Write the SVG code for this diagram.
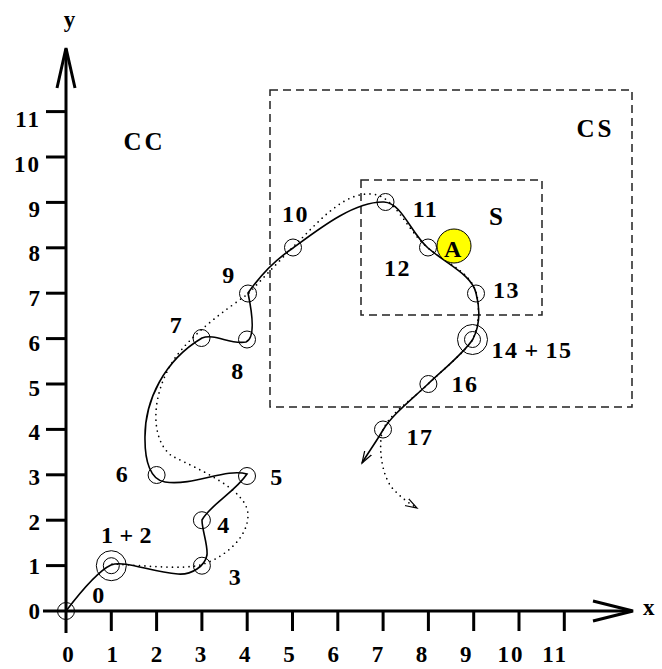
<svg xmlns="http://www.w3.org/2000/svg" width="662" height="669" viewBox="0 0 662 669">
<style>
.ax{stroke:#000;stroke-width:3;fill:none}
.tk{stroke:#000;stroke-width:3}
.al{font-family:"Liberation Serif","Times New Roman",serif;font-weight:bold;font-size:23px;fill:#000}
.lb{font-family:"Liberation Serif","Times New Roman",serif;font-weight:bold;font-size:24px;fill:#000;text-anchor:middle;letter-spacing:1.5px}
.big{font-family:"Liberation Serif","Times New Roman",serif;font-weight:bold;font-size:25px;fill:#000;text-anchor:middle;letter-spacing:3px}
.pt{fill:none;stroke:#000;stroke-width:1}
.box{fill:none;stroke:#222;stroke-width:1.5;stroke-dasharray:8 5}
.solid{fill:none;stroke:#000;stroke-width:1.6;marker-end:url(#arr)}
.dot{fill:none;stroke:#000;stroke-width:1.7;stroke-linecap:round;stroke-dasharray:0 5.5;marker-end:url(#arr)}
</style>
<defs>
<marker id="arr" markerUnits="userSpaceOnUse" markerWidth="14" markerHeight="12" refX="12" refY="6" orient="auto">
<path d="M0,2 L12,6 L0,10" fill="none" stroke="#000" stroke-width="1.2"/>
</marker>
</defs>
<rect width="662" height="669" fill="#fff"/>
<g id="axes">
<line class="ax" x1="43" y1="611" x2="632" y2="611"/>
<polyline class="ax" points="593,601 633,611 593,621"/>
<line class="ax" x1="66" y1="633" x2="66" y2="49"/>
<polyline class="ax" points="57,88 66,48 75,88"/>
<g class="tk">
<line x1="111.3" y1="611" x2="111.3" y2="631"/><line x1="156.6" y1="611" x2="156.6" y2="631"/>
<line x1="201.9" y1="611" x2="201.9" y2="631"/><line x1="247.2" y1="611" x2="247.2" y2="631"/>
<line x1="292.5" y1="611" x2="292.5" y2="631"/><line x1="337.8" y1="611" x2="337.8" y2="631"/>
<line x1="383.1" y1="611" x2="383.1" y2="631"/><line x1="428.4" y1="611" x2="428.4" y2="631"/>
<line x1="473.7" y1="611" x2="473.7" y2="631"/><line x1="519" y1="611" x2="519" y2="631"/>
<line x1="564.3" y1="611" x2="564.3" y2="631"/>
<line x1="46" y1="565.6" x2="66" y2="565.6"/><line x1="46" y1="520.2" x2="66" y2="520.2"/>
<line x1="46" y1="474.8" x2="66" y2="474.8"/><line x1="46" y1="429.4" x2="66" y2="429.4"/>
<line x1="46" y1="384" x2="66" y2="384"/><line x1="46" y1="338.6" x2="66" y2="338.6"/>
<line x1="46" y1="293.2" x2="66" y2="293.2"/><line x1="46" y1="247.8" x2="66" y2="247.8"/>
<line x1="46" y1="202.4" x2="66" y2="202.4"/><line x1="46" y1="157" x2="66" y2="157"/>
<line x1="46" y1="111.6" x2="66" y2="111.6"/>
</g>
<g class="al" text-anchor="middle">
<text x="68" y="662">0</text><text x="112.2" y="662">1</text><text x="156.4" y="662">2</text>
<text x="200.6" y="662">3</text><text x="244.8" y="662">4</text><text x="289" y="662">5</text>
<text x="333.2" y="662">6</text><text x="377.4" y="662">7</text><text x="421.6" y="662">8</text>
<text x="465.8" y="662">9</text><text x="511" y="662" letter-spacing="2">10</text><text x="555.2" y="662" letter-spacing="2">11</text>
</g>
<g class="al" text-anchor="end">
<text x="40" y="619">0</text><text x="40" y="574.3">1</text><text x="40" y="529.6">2</text>
<text x="40" y="484.9">3</text><text x="40" y="440.2">4</text><text x="40" y="395.5">5</text>
<text x="40" y="350.8">6</text><text x="40" y="306.1">7</text><text x="40" y="261.4">8</text>
<text x="40" y="216.7">9</text><text x="41" y="172" letter-spacing="2">10</text><text x="41" y="127.3" letter-spacing="2">11</text>
</g>
<text class="al" x="69.5" y="27" text-anchor="middle" font-size="25">y</text>
<text class="al" x="643" y="615" font-size="25">x</text>
</g>
<g id="regions">
<rect id="region-CS" class="box" x="270" y="90" width="362" height="317"/>
<rect id="region-S" class="box" x="361" y="180" width="181" height="135"/>
<text class="big" x="144.5" y="150">CC</text>
<text class="big" x="595.5" y="137">CS</text>
<text class="big" x="497.5" y="225" letter-spacing="0">S</text>
</g>
<g id="connectors">
<path id="trajectory" class="solid" d="M66,611 C82,590 98,571 111,565 C125,560 150,572 178,574 C192,575 205,566 207,555 C208,545 202,530 202,520 C210,505 235,492 247,474 C225,468 195,486 165,482 C150,480 145,460 145,440 C144,400 165,360 202,338 C215,333 230,345 246,342 C256,338 252,312 248,293 C262,273 275,260 293,248 C320,228 355,201 384,202 C402,203 410,232 428,248 C448,265 472,275 476,293 C480,308 480,325 473,339 C465,352 445,368 428,384 C410,401 392,415 383,430 C376,442 368,453 362,463"/>
<path id="prediction" class="dot" d="M112,564 C140,565 180,570 200,565 C220,560 248,540 248,515 C248,490 200,470 172,456 C150,440 150,395 175,358 C192,334 225,310 248,294 C264,277 283,257 300,240 C322,218 345,192 372,194 C395,196 405,228 428,248 C448,264 470,272 476,292 C480,305 479,325 473,339 C465,352 445,368 428,384 C410,402 390,412 382,432 C378,452 383,480 395,491 C402,498 410,504 417,508"/>
</g>
<g id="n0"><circle class="pt" cx="66" cy="611" r="8.5"/><text class="lb" x="99" y="603">0</text></g>
<g id="n1-2"><circle class="pt" cx="111.3" cy="565.7" r="8"/><circle class="pt" cx="111.3" cy="565.7" r="15"/><text class="lb" x="127" y="543">1<tspan dx="5">+</tspan><tspan dx="5">2</tspan></text></g>
<g id="n3"><circle class="pt" cx="201.9" cy="565.7" r="8.5"/><text class="lb" x="235.5" y="585">3</text></g>
<g id="n4"><circle class="pt" cx="201.9" cy="520.2" r="8.5"/><text class="lb" x="224" y="533">4</text></g>
<g id="n5"><circle class="pt" cx="247" cy="476" r="8.5"/><text class="lb" x="277" y="485">5</text></g>
<g id="n6"><circle class="pt" cx="156.6" cy="475" r="8.5"/><text class="lb" x="122.5" y="482">6</text></g>
<g id="n7"><circle class="pt" cx="201.5" cy="338" r="8.5"/><text class="lb" x="176.5" y="333">7</text></g>
<g id="n8"><circle class="pt" cx="247" cy="339.5" r="8.5"/><text class="lb" x="238" y="379">8</text></g>
<g id="n9"><circle class="pt" cx="248" cy="293.5" r="8.5"/><text class="lb" x="229" y="283">9</text></g>
<g id="n10"><circle class="pt" cx="293" cy="247.5" r="8.5"/><text class="lb" x="295.5" y="222">10</text></g>
<g id="n11"><circle class="pt" cx="385.5" cy="202" r="8.5"/><text class="lb" x="425.5" y="217">11</text></g>
<g id="n12"><circle class="pt" cx="428" cy="247.5" r="8.5"/><text class="lb" x="397.5" y="276">12</text></g>
<g id="n13"><circle class="pt" cx="476" cy="293.5" r="8.5"/><text class="lb" x="506.5" y="298">13</text></g>
<g id="n14-15"><circle class="pt" cx="472.5" cy="339.5" r="8"/><circle class="pt" cx="472.5" cy="339.5" r="15"/><text class="lb" x="532" y="358">14<tspan dx="6">+</tspan><tspan dx="6">15</tspan></text></g>
<g id="n16"><circle class="pt" cx="428.4" cy="384" r="8.5"/><text class="lb" x="465" y="392">16</text></g>
<g id="n17"><circle class="pt" cx="383" cy="429.5" r="8.5"/><text class="lb" x="420" y="445">17</text></g>
<g id="nA"><circle cx="454" cy="246" r="17" fill="#ffff00" stroke="#000" stroke-width="1"/><text class="lb" x="453.5" y="257" font-size="29" letter-spacing="0">A</text></g>
</svg>
